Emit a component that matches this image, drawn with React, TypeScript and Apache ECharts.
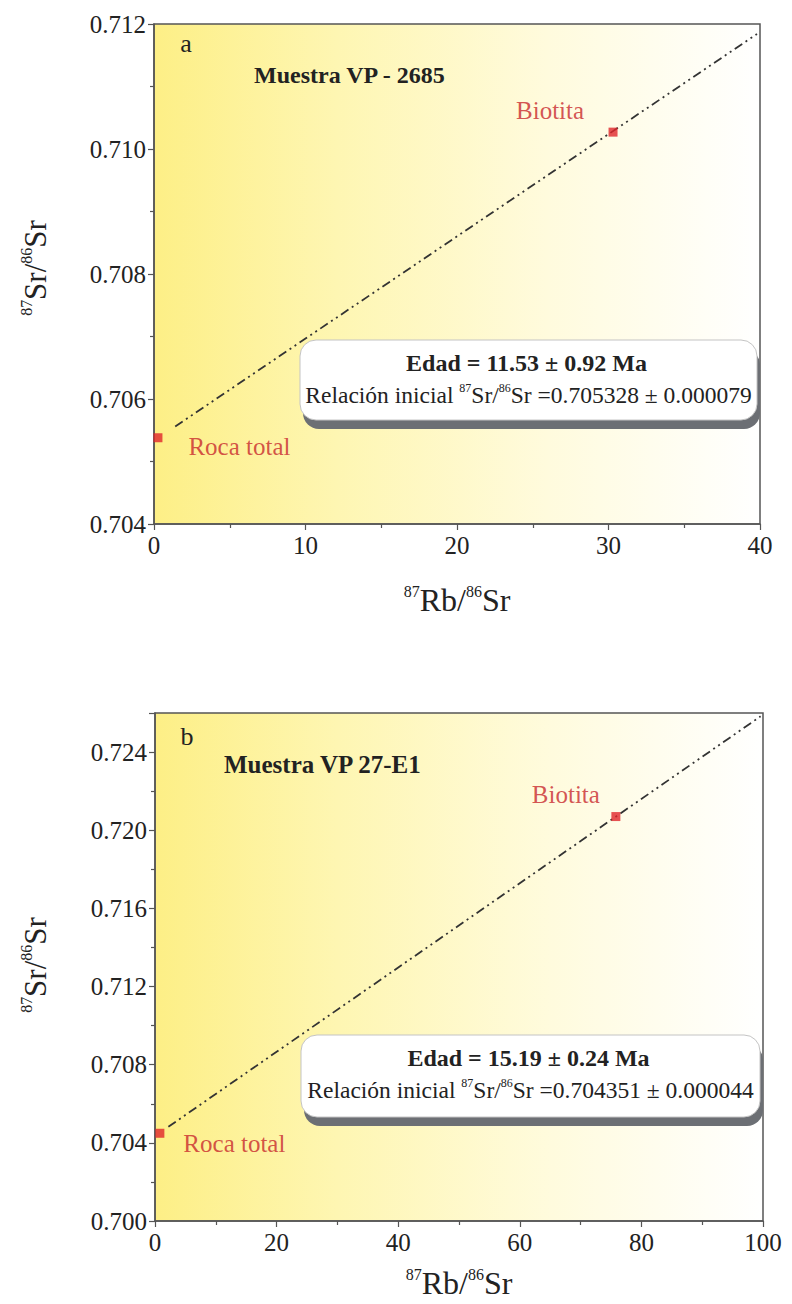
import React, { useEffect, useRef } from "react";
import * as echarts from "echarts";

const SERIF = "Liberation Serif, serif";

// ---------- Panel a ----------
const aXTicks = [0, 10, 20, 30, 40];
const aYTicks = [0.704, 0.706, 0.708, 0.71, 0.712];
const aYMax = 0.712;
const aPointNames = ["Roca total", "Biotita"];
const aPointX = [0.26, 30.3];
const aPointY = [0.70538, 0.71027];
const aLineX = [1.4, 39.8];
const aLineY = [0.70556, 0.71184];
const aTitle = "Muestra VP - 2685";
const aAge = "Edad = 11.53 ± 0.92 Ma";
const aInitial = "0.705328 ± 0.000079";

// ---------- Panel b ----------
const bXTicks = [0, 20, 40, 60, 80, 100];
const bYTicks = [0.7, 0.704, 0.708, 0.712, 0.716, 0.72, 0.724];
const bYMax = 0.726;
const bPointNames = ["Roca total", "Biotita"];
const bPointX = [0.8, 75.8];
const bPointY = [0.70449, 0.7207];
const bLineX = [2.2, 99.6];
const bLineY = [0.70482, 0.72583];
const bTitle = "Muestra VP 27-E1";
const bAge = "Edad = 15.19 ± 0.24 Ma";
const bInitial = "0.704351 ± 0.000044";

const AXIS_COLOR = "#555555";
const TEXT_COLOR = "#222222";
const RED = "#c8292d";
const MARK_RED = "#e0262a";

function bg() {
  return new echarts.graphic.LinearGradient(0, 0, 1, 0, [
    { offset: 0, color: "#fdef86" },
    { offset: 0.3, color: "#fef6b2" },
    { offset: 0.65, color: "#fffbdd" },
    { offset: 1, color: "#ffffff" },
  ]);
}

function xAxis(gridIndex: number, ticks: number[]) {
  return {
    type: "value",
    gridIndex,
    min: ticks[0],
    max: ticks[ticks.length - 1],
    interval: ticks[1] - ticks[0],
    axisLine: { show: true, lineStyle: { color: AXIS_COLOR, width: 1.5 } },
    axisTick: { show: true, length: 6, lineStyle: { color: AXIS_COLOR, width: 1.2 } },
    minorTick: { show: true, splitNumber: 2, length: 4, lineStyle: { color: AXIS_COLOR, width: 1.2 } },
    splitLine: { show: false },
    axisLabel: { color: TEXT_COLOR, fontFamily: SERIF, fontSize: 25, margin: 9 },
  };
}

function yAxis(gridIndex: number, ticks: number[], max: number) {
  return {
    type: "value",
    gridIndex,
    min: ticks[0],
    max,
    interval: ticks[1] - ticks[0],
    axisLine: { show: true, lineStyle: { color: AXIS_COLOR, width: 1.5 } },
    axisTick: { show: true, length: 6, lineStyle: { color: AXIS_COLOR, width: 1.2 } },
    minorTick: { show: true, splitNumber: 2, length: 4, lineStyle: { color: AXIS_COLOR, width: 1.2 } },
    splitLine: { show: false },
    axisLabel: {
      color: TEXT_COLOR,
      fontFamily: SERIF,
      fontSize: 25,
      margin: 8,
      showMaxLabel: max === ticks[ticks.length - 1],
      formatter: (v: number) => v.toFixed(3),
    },
  };
}

function points(
  idx: number,
  names: string[],
  xs: number[],
  ys: number[],
  labelCfg: Record<string, any>
) {
  return {
    type: "scatter",
    xAxisIndex: idx,
    yAxisIndex: idx,
    symbol: "rect",
    symbolSize: 9,
    itemStyle: { color: MARK_RED },
    clip: false,
    z: 5,
    data: names.map((n, i) => ({
      name: n,
      value: [xs[i], ys[i]],
      label: {
        show: true,
        formatter: n,
        color: RED,
        fontFamily: SERIF,
        fontSize: 25,
        ...labelCfg[n],
      },
    })),
  };
}

function isochron(idx: number, xs: number[], ys: number[]) {
  return {
    type: "line",
    xAxisIndex: idx,
    yAxisIndex: idx,
    symbol: "none",
    silent: true,
    lineStyle: { color: "#333333", width: 1.8, type: [9, 4, 2, 4, 2, 4] },
    data: xs.map((x, i) => [x, ys[i]]),
    z: 3,
  };
}

const supRich = (main: number, sup: number, bold = false) => ({
  n: { fontSize: main, fontFamily: SERIF, fill: TEXT_COLOR, lineHeight: main + 2, fontWeight: bold ? "bold" : "normal" },
  s: { fontSize: sup, fontFamily: SERIF, fill: TEXT_COLOR, lineHeight: sup + 2, verticalAlign: "top" },
});

function centeredText(x: number, y: number, text: string, size: number, bold: boolean, rotation = 0, rich?: any) {
  return {
    type: "text",
    x,
    y,
    rotation,
    z: 20,
    style: {
      text,
      fill: TEXT_COLOR,
      fontSize: size,
      fontFamily: SERIF,
      fontWeight: bold ? "bold" : "normal",
      align: "center",
      verticalAlign: "middle",
      textAlign: "center",
      textVerticalAlign: "middle",
      lineHeight: size + 2,
      rich,
    },
  };
}

function leftText(x: number, y: number, text: string, size: number, bold: boolean) {
  return {
    type: "text",
    x,
    y,
    z: 20,
    style: {
      text,
      fill: TEXT_COLOR,
      fontSize: size,
      fontFamily: SERIF,
      fontWeight: bold ? "bold" : "normal",
      align: "left",
      verticalAlign: "middle",
      textAlign: "left",
      textVerticalAlign: "middle",
    },
  };
}

function infoBox(x: number, y: number, w: number, h: number, age: string, initial: string) {
  const cx = x + w / 2;
  return [
    {
      type: "rect",
      z: 10,
      shape: { x: x + 3, y: y + 9, width: w, height: h, r: 16 },
      style: { fill: "#6c6f74" },
    },
    {
      type: "rect",
      z: 11,
      shape: { x, y, width: w, height: h, r: 16 },
      style: { fill: "#ffffff", stroke: "#c4c4c4", lineWidth: 1 },
    },
    centeredText(cx - 2, y + 23, age, 24, true),
    centeredText(
      cx,
      y + 55,
      `{n|Relación inicial }{s|87}{n|Sr/}{s|86}{n|Sr =${initial}}`,
      23.5,
      false,
      0,
      supRich(23.5, 12)
    ),
  ];
}

export default function App() {
  const ref = useRef<HTMLDivElement>(null);

  useEffect(() => {
    if (!ref.current) return;
    const chart = echarts.init(ref.current, null, { renderer: "svg" });
    const option: any = {
      animation: false,
      backgroundColor: "#ffffff",
      textStyle: { fontFamily: SERIF },
      grid: [
        {
          left: 154,
          top: 24,
          width: 606,
          height: 500,
          show: true,
          backgroundColor: bg(),
          borderColor: AXIS_COLOR,
          borderWidth: 1.5,
        },
        {
          left: 155,
          top: 713,
          width: 608,
          height: 508,
          show: true,
          backgroundColor: bg(),
          borderColor: AXIS_COLOR,
          borderWidth: 1.5,
        },
      ],
      xAxis: [xAxis(0, aXTicks), xAxis(1, bXTicks)],
      yAxis: [yAxis(0, aYTicks, aYMax), yAxis(1, bYTicks, bYMax)],
      series: [
        isochron(0, aLineX, aLineY),
        points(0, aPointNames, aPointX, aPointY, {
          "Roca total": { position: "right", offset: [21, 9] },
          Biotita: { position: "top", offset: [-63, 0] },
        }),
        isochron(1, bLineX, bLineY),
        points(1, bPointNames, bPointX, bPointY, {
          "Roca total": { position: "right", offset: [14, 10] },
          Biotita: { position: "top", offset: [-50, 0] },
        }),
      ],
      graphic: [
        centeredText(186, 43, "a", 26, false),
        leftText(254, 75, aTitle, 24, true),
        centeredText(187, 736, "b", 26, false),
        leftText(224, 764, bTitle, 25, true),
        ...infoBox(300, 340, 457, 80, aAge, aInitial),
        ...infoBox(301, 1035, 459, 82, bAge, bInitial),
        centeredText(457, 600, "{s|87}{n|Rb/}{s|86}{n|Sr}", 32, false, 0, supRich(32, 16)),
        centeredText(35, 268, "{s|87}{n|Sr/}{s|86}{n|Sr}", 31, false, Math.PI / 2, supRich(31, 16)),
        centeredText(459, 1283, "{s|87}{n|Rb/}{s|86}{n|Sr}", 32, false, 0, supRich(32, 16)),
        centeredText(35, 965, "{s|87}{n|Sr/}{s|86}{n|Sr}", 31, false, Math.PI / 2, supRich(31, 16)),
      ],
    };
    chart.setOption(option);
    return () => chart.dispose();
  }, []);

  return (
    <div
      ref={ref}
      style={{ position: "absolute", left: 0, top: 0, width: 792, height: 1304 }}
    />
  );
}
